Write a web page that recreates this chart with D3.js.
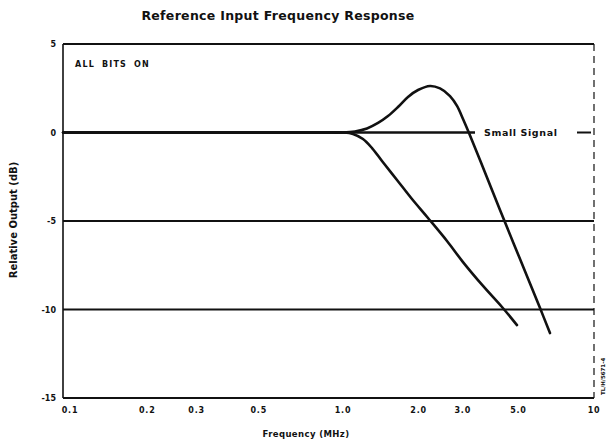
<!DOCTYPE html>
<html>
<head>
<meta charset="utf-8">
<script src="https://cdn.jsdelivr.net/npm/d3@7"></script>
<style>
  html, body { margin: 0; padding: 0; background: #fff; }
  svg { display: block; }
  text { font-family: "DejaVu Sans", "Liberation Sans", sans-serif; fill: #111; }
</style>
</head>
<body>
<svg id="chart" width="612" height="446"></svg>
<script>
// ---- data ----
const title = "Reference Input Frequency Response";
const xTitle = "Frequency (MHz)";
const yTitle = "Relative Output (dB)";
const xTicks = [0.1, 0.2, 0.3, 0.5, 1, 2, 3, 5, 10];
const xTickLabels = ["0.1", "0.2", "0.3", "0.5", "1.0", "2.0", "3.0", "5.0", "10"];
const yTicks = [5, 0, -5, -10, -15];
const yTickLabels = ["5", "0", "-5", "-10", "-15"];
const gridLevels = [0, -5, -10];

// peaking curve (rises to ~+2.6 dB near 2.2 MHz, then falls steeply)
const peakFreq = [0.1, 0.3, 0.6, 0.85, 1.0, 1.116, 1.246, 1.379, 1.511, 1.656, 1.815, 1.99, 2.222, 2.435, 2.669, 2.846, 3.007, 3.177, 3.514, 4.222, 5.073, 6.095, 6.678];
const peakDb   = [0, 0, 0, 0, 0, 0.06, 0.23, 0.54, 0.93, 1.44, 2.01, 2.40, 2.63, 2.49, 2.06, 1.50, 0.76, -0.03, -1.55, -4.38, -7.15, -9.92, -11.33];
// roll-off curve
const rollFreq = [0.1, 0.3, 0.6, 0.85, 1.0, 1.096, 1.201, 1.305, 1.43, 1.641, 1.883, 2.181, 2.596, 3.007, 3.613, 4.30, 4.934];
const rollDb   = [0, 0, 0, 0, 0, -0.08, -0.37, -0.88, -1.61, -2.68, -3.76, -4.83, -6.13, -7.32, -8.67, -9.86, -10.88];

const noteText = "ALL BITS ON";
const seriesLabel = "Small Signal";
const figCode = "TL/H/5671-4";

// ---- layout ----
const svg = d3.select("#chart");
const L = 63, R = 594, T = 44, B = 398;

const x = d3.scaleLog().domain([0.1, 1, 10]).range([L, 343, R]);
const y = d3.scaleLinear().domain([-15, 5]).range([B, T]);

const ink = "#111";

// title
svg.append("text").attr("x", 278).attr("y", 20).attr("text-anchor", "middle")
  .attr("font-size", 12.5).attr("font-weight", "bold").attr("letter-spacing", 0.3).text(title);

// grid lines
svg.append("g").selectAll("line").data(gridLevels).join("line")
  .attr("x1", L).attr("x2", d => d === 0 ? 475 : R)
  .attr("y1", d => y(d)).attr("y2", d => y(d))
  .attr("stroke", ink).attr("stroke-width", d => d === 0 ? 2.6 : 1.8);

// frame
const frame = svg.append("g").attr("fill", "none").attr("stroke", ink);
frame.append("line").attr("x1", L).attr("x2", R).attr("y1", T).attr("y2", T).attr("stroke-width", 2.2);
frame.append("line").attr("x1", L).attr("x2", R).attr("y1", B).attr("y2", B).attr("stroke-width", 2.2);
frame.append("line").attr("x1", L).attr("x2", L).attr("y1", T).attr("y2", B).attr("stroke-width", 1.6);
frame.append("line").attr("x1", R).attr("x2", R).attr("y1", T).attr("y2", B).attr("stroke-width", 1.2)
  .attr("stroke-dasharray", "7,5");

// x axis tick labels
svg.append("g").selectAll("text").data(xTicks).join("text")
  .attr("x", d => x(d) + (d === 0.1 ? 7 : 0))
  .attr("y", 413).attr("text-anchor", "middle")
  .attr("font-size", 8).attr("font-weight", "bold").attr("letter-spacing", 0.8)
  .text((d, i) => xTickLabels[i]);

// y axis tick labels
svg.append("g").selectAll("text").data(yTicks).join("text")
  .attr("x", 56).attr("y", d => y(d) + 3).attr("text-anchor", "end")
  .attr("font-size", 8).attr("font-weight", "bold")
  .text((d, i) => yTickLabels[i]);

// axis titles
svg.append("text").attr("x", 306).attr("y", 437).attr("text-anchor", "middle")
  .attr("font-size", 8.5).attr("font-weight", "bold").attr("letter-spacing", 0.4).text(xTitle);
svg.append("text").attr("transform", "translate(17,220) rotate(-90)")
  .attr("text-anchor", "middle").attr("font-size", 10).attr("font-weight", "bold").text(yTitle);

// note
svg.append("text").attr("x", 75).attr("y", 67).attr("font-size", 8).attr("font-weight", "bold")
  .attr("letter-spacing", 1.2).attr("word-spacing", 3).text(noteText);

// curves
const line = d3.line().x(d => x(d[0])).y(d => y(d[1])).curve(d3.curveCatmullRom.alpha(0.5));
const curves = [d3.zip(peakFreq, peakDb), d3.zip(rollFreq, rollDb)];
svg.append("g").selectAll("path").data(curves).join("path")
  .attr("d", line).attr("fill", "none").attr("stroke", ink)
  .attr("stroke-width", 2.6).attr("stroke-linecap", "round").attr("stroke-linejoin", "round");

// series label with legend dash
svg.append("text").attr("x", 484).attr("y", y(0) + 3).attr("font-size", 9.5).attr("font-weight", "bold")
  .attr("letter-spacing", 0.6).text(seriesLabel);
svg.append("line").attr("x1", 577).attr("x2", 591).attr("y1", y(0)).attr("y2", y(0))
  .attr("stroke", ink).attr("stroke-width", 2);

// figure code at right edge
svg.append("text").attr("transform", "translate(605,395) rotate(-90)")
  .attr("font-size", 5.5).attr("font-weight", "bold").text(figCode);
</script>
</body>
</html>
